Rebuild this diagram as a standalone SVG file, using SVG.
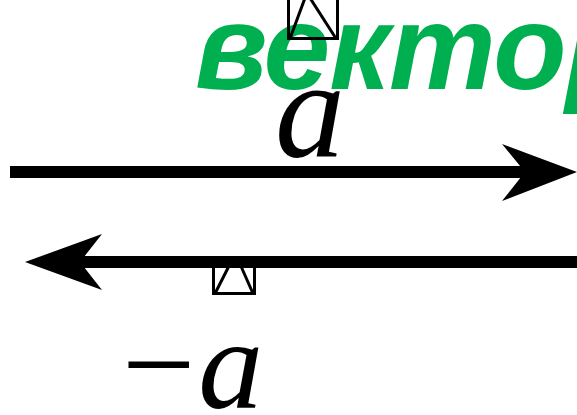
<svg xmlns="http://www.w3.org/2000/svg" width="577" height="415" viewBox="0 0 577 415">
<style>
.title{font-family:"Liberation Sans",Arial,sans-serif;font-weight:bold;font-style:italic;fill:#00B050;font-size:120px;letter-spacing:-1px}
.var{font-family:"Liberation Serif","Times New Roman",serif;font-style:italic;fill:#000}
.minus{font-family:"Liberation Serif","Times New Roman",serif;fill:#000;font-size:130px}
.hat{fill:none;stroke:#000;stroke-width:3}
.bar{stroke:#000;stroke-width:12;fill:none}
</style>
<rect width="577" height="415" fill="#fff"/>
<g id="title"><text class="title" x="195" y="89">вектор</text></g>
<g id="connectors">
<line class="bar" x1="10" y1="172" x2="530" y2="172"/>
<path d="M577,172 L502,144 L525,172 L502,201 Z" fill="#000"/>
<line class="bar" x1="72" y1="262" x2="577" y2="262"/>
<path d="M25,262 L102,234 L80,262 L102,290 Z" fill="#000"/>
</g>
<g id="vector-a">
<text class="var" x="275" y="157" font-size="140">a</text>
<path class="hat" d="M288.5,-2 V38.5 H337.5 V-2 M290,38.5 L305,-2 M310,-2 L336,38.5"/>
</g>
<g id="vector-neg-a">
<text x="122" y="408" font-size="130"><tspan class="minus">−</tspan><tspan class="var" dx="3">a</tspan></text>
<path class="hat" d="M213.5,264 V293.5 H254.5 V264 M215,293.5 L230,264 M240,264 L253,293.5"/>
</g>
</svg>
